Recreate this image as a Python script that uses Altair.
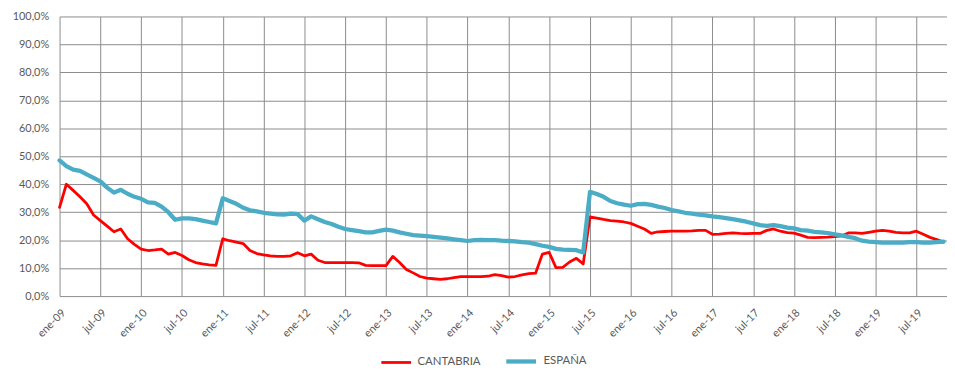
import json
import altair as alt
import pandas as pd

# ---- categories (months ene-09 .. nov-19) ----
meses_abrev = ["ene", "feb", "mar", "abr", "may", "jun", "jul", "ago", "sep", "oct", "nov", "dic"]
meses = [f"{meses_abrev[k % 12]}-{9 + k // 12:02d}" for k in range(131)]

# ---- x tick labels ----
etiquetas_x = ["ene-09", "jul-09", "ene-10", "jul-10", "ene-11", "jul-11", "ene-12", "jul-12",
               "ene-13", "jul-13", "ene-14", "jul-14", "ene-15", "jul-15", "ene-16", "jul-16",
               "ene-17", "jul-17", "ene-18", "jul-18", "ene-19", "jul-19"]

# ---- series values (%) ----
cantabria = [
    31.7, 40.0, 37.8, 35.5, 33.0, 29.0, 27.0, 25.0, 23.0, 24.0,
    20.5, 18.5, 16.8, 16.3, 16.5, 16.8, 15.0, 15.6, 14.5, 13.0,
    12.0, 11.5, 11.2, 11.0, 20.5, 19.8, 19.3, 18.8, 16.3, 15.2,
    14.7, 14.4, 14.2, 14.2, 14.4, 15.5, 14.4, 15.0, 12.8, 12.0,
    12.0, 12.0, 12.0, 12.0, 11.9, 11.0, 10.9, 10.9, 10.9, 14.2,
    12.0, 9.5, 8.3, 7.0, 6.4, 6.2, 6.0, 6.2, 6.6, 7.0,
    7.0, 7.0, 7.0, 7.1, 7.7, 7.3, 6.8, 7.0, 7.6, 8.0,
    8.2, 15.0, 15.6, 10.2, 10.3, 12.2, 13.5, 11.5, 28.3, 27.9,
    27.4, 27.0, 26.8, 26.5, 26.0, 25.0, 24.0, 22.4, 23.0, 23.1,
    23.2, 23.2, 23.2, 23.3, 23.5, 23.5, 22.1, 22.2, 22.4, 22.6,
    22.4, 22.3, 22.4, 22.4, 23.5, 24.0, 23.2, 22.7, 22.5, 21.8,
    21.0, 20.9, 21.0, 21.1, 21.3, 21.5, 22.6, 22.6, 22.4, 22.8,
    23.2, 23.5, 23.2, 22.8, 22.6, 22.6, 23.2, 22.1, 21.0, 20.2,
    19.3,
]

espana = [
    48.5, 46.5, 45.2, 44.8, 43.5, 42.3, 41.0, 38.8, 37.0, 38.0,
    36.6, 35.5, 34.8, 33.5, 33.3, 32.0, 30.0, 27.3, 27.8, 27.8,
    27.5, 27.0, 26.5, 26.0, 35.0, 34.0, 33.0, 31.6, 30.7, 30.3,
    29.8, 29.5, 29.2, 29.1, 29.5, 29.3, 27.0, 28.5, 27.5, 26.5,
    25.8, 24.8, 24.0, 23.6, 23.2, 22.8, 22.8, 23.3, 23.8, 23.4,
    22.8, 22.3, 21.8, 21.6, 21.4, 21.2, 20.9, 20.6, 20.3, 20.0,
    19.7, 20.0, 20.1, 20.0, 20.0, 19.8, 19.7, 19.6, 19.3, 19.1,
    18.6, 18.0, 17.6, 16.9, 16.6, 16.5, 16.4, 15.6, 37.3, 36.5,
    35.5, 34.0, 33.2, 32.7, 32.3, 32.9, 33.0, 32.6, 32.0, 31.5,
    30.8, 30.3, 29.8, 29.5, 29.1, 28.9, 28.5, 28.2, 27.9, 27.5,
    27.1, 26.6, 26.0, 25.4, 25.1, 25.4, 25.0, 24.5, 24.2, 23.6,
    23.4, 23.0, 22.8, 22.5, 22.1, 21.7, 21.2, 20.7, 19.8, 19.5,
    19.3, 19.1, 19.1, 19.1, 19.1, 19.3, 19.3, 19.1, 19.1, 19.3,
    19.5,
]

series = ["CANTABRIA", "ESPAÑA"]
colores = ["#FF0000", "#4BACC6"]

rows = []
for k, m in enumerate(meses):
    rows.append({"idx": k, "mes": m, "serie": "CANTABRIA", "valor": cantabria[k] / 100})
    rows.append({"idx": k, "mes": m, "serie": "ESPAÑA", "valor": espana[k] / 100})
df = pd.DataFrame(rows)

label_expr_x = json.dumps(etiquetas_x) + "[round(datum.value / 6)]"
FONT = "Lato"
LABEL_COLOR = "#595959"
GRID = "#8c8c8c"

chart = alt.Chart(df).mark_line(strokeJoin="round", strokeCap="round").encode(
    x=alt.X(
        "idx:Q",
        scale=alt.Scale(domain=[0, 130.5], nice=False, zero=False),
        axis=alt.Axis(
            values=list(range(0, 127, 6)),
            labelExpr=label_expr_x,
            labelAngle=-45,
            labelAlign="right",
            labelBaseline="middle",
            labelPadding=15,
            labelOffset=4,
            labelFontSize=11,
            title=None,
            grid=True,
            ticks=False,
            domain=False,
        ),
    ),
    y=alt.Y(
        "valor:Q",
        scale=alt.Scale(domain=[0, 1], nice=False),
        axis=alt.Axis(
            values=[v / 10 for v in range(11)],
            labelExpr="replace(format(datum.value, '.1%'), '.', ',')",
            title=None,
            ticks=False,
            domain=False,
            labelPadding=11,
            labelFontSize=11,
        ),
    ),
    color=alt.Color(
        "serie:N",
        scale=alt.Scale(domain=series, range=colores),
        legend=alt.Legend(
            orient="none",
            legendX=323,
            legendY=330,
            direction="horizontal",
            title=None,
            symbolType="stroke",
            symbolSize=900,
            symbolStrokeWidth=3.5,
            labelFont=FONT,
            labelFontSize=11.5,
            labelColor=LABEL_COLOR,
            columnPadding=16,
            labelOffset=5,
        ),
    ),
    strokeWidth=alt.StrokeWidth(
        "serie:N",
        scale=alt.Scale(domain=series, range=[2.8, 4.3]),
        legend=None,
    ),
).properties(
    width=895,
    height=282,
    autosize=alt.AutoSizeParams(type="none"),
    padding={"left": 52, "top": 7, "right": 0, "bottom": 73},
).configure_view(
    stroke=None
).configure_axis(
    gridColor=GRID,
    gridWidth=1,
    gridOpacity=1,
    labelFont=FONT,
    labelColor=LABEL_COLOR,
)

chart.save("out.html", embed_options={"renderer": "svg", "actions": False})
